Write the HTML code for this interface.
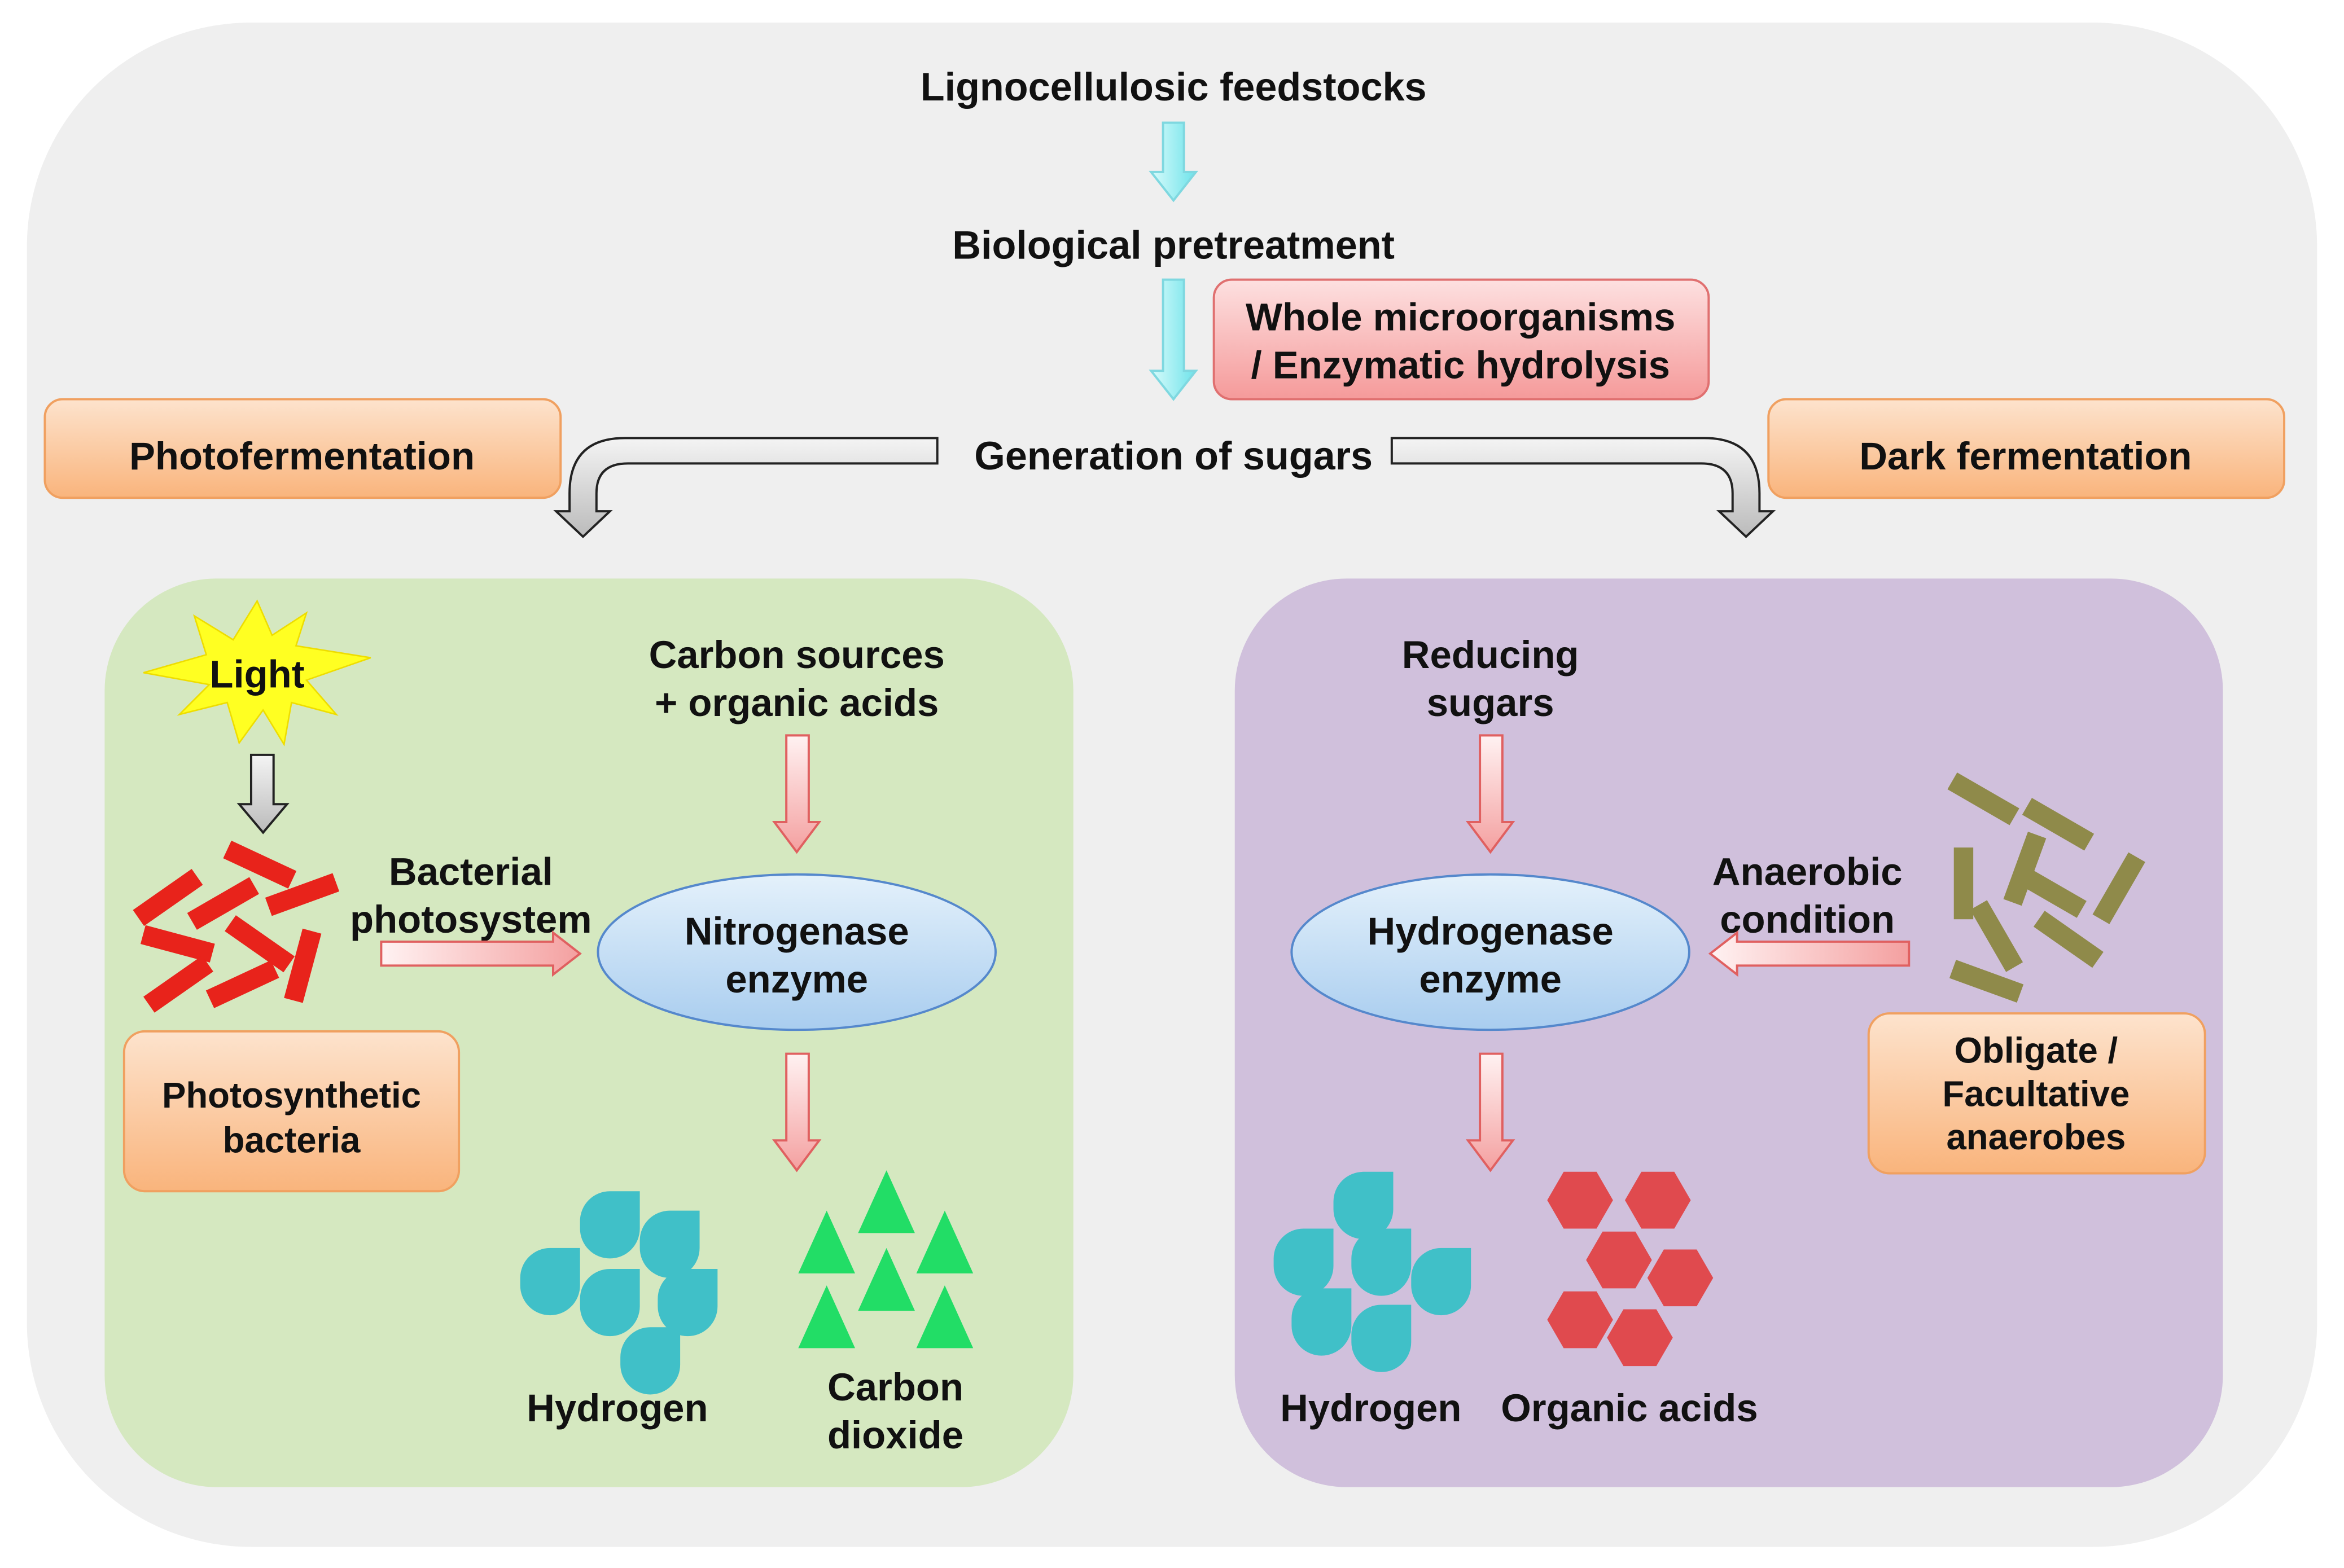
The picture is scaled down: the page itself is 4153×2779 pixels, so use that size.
<!DOCTYPE html>
<html><head><meta charset="utf-8"><style>
html,body{margin:0;padding:0;background:#fff;}
svg{display:block;}
text{font-family:"Liberation Sans",Arial,sans-serif;font-weight:bold;fill:#111;}
</style></head><body>
<svg width="4153" height="2779" viewBox="0 0 1568 1049" xmlns="http://www.w3.org/2000/svg">
<defs>
<linearGradient id="org" x1="0" y1="0" x2="0" y2="1"><stop offset="0" stop-color="#fde3cd"/><stop offset="1" stop-color="#f9b47c"/></linearGradient>
<linearGradient id="pnk" x1="0" y1="0" x2="0" y2="1"><stop offset="0" stop-color="#fde0e0"/><stop offset="1" stop-color="#f59a9a"/></linearGradient>
<linearGradient id="ell" x1="0" y1="0" x2="0" y2="1"><stop offset="0" stop-color="#e4f1fb"/><stop offset="1" stop-color="#a9cdef"/></linearGradient>
<linearGradient id="pa" x1="0" y1="0" x2="1" y2="0"><stop offset="0" stop-color="#fff2f2"/><stop offset="1" stop-color="#f4a0a0"/></linearGradient>
<linearGradient id="pav" x1="0" y1="0" x2="0" y2="1"><stop offset="0" stop-color="#fff2f2"/><stop offset="1" stop-color="#f4a0a0"/></linearGradient>
<linearGradient id="gr" x1="0" y1="0" x2="0" y2="1"><stop offset="0" stop-color="#f4f4f4"/><stop offset="1" stop-color="#bbb"/></linearGradient>
<linearGradient id="cy" x1="0" y1="0" x2="1" y2="0"><stop offset="0" stop-color="#d8fbfb"/><stop offset="1" stop-color="#6ee3ea"/></linearGradient>
<g id="drop"><path d="M20 0 H40 V25 A20 20 0 1 1 0 25 V20 A20 20 0 0 1 20 0 Z" fill="#40c0c8"/></g>
<polygon id="hex" points="22,0 11,19 -11,19 -22,0 -11,-19 11,-19" fill="#e04a4e"/>
<polygon id="tri" points="0,-22 19,20 -19,20" fill="#22dd66"/>
</defs>
<rect x="18" y="15" width="1532" height="1020" rx="150" fill="#efefef"/>

<text x="785" y="67" font-size="26.5" text-anchor="middle">Lignocellulosic feedstocks</text>
<path d="M778 82 H792 V115 H800 L785 134 L770 115 H778 Z" fill="url(#cy)" stroke="#7fd8e0" stroke-width="1.5"/>
<text x="785" y="173" font-size="26.5" text-anchor="middle">Biological pretreatment</text>
<path d="M778 187 H792 V248 H800 L785 267 L770 248 H778 Z" fill="url(#cy)" stroke="#7fd8e0" stroke-width="1.5"/>
<rect x="812" y="187" width="331" height="80" rx="12" fill="url(#pnk)" stroke="#e07070" stroke-width="1.5"/>
<text x="977" y="221" font-size="26" text-anchor="middle">Whole microorganisms</text>
<text x="977" y="253" font-size="26" text-anchor="middle">/ Enzymatic hydrolysis</text>
<text x="785" y="314" font-size="26.5" text-anchor="middle">Generation of sugars</text>

<rect x="30" y="267" width="345" height="66" rx="12" fill="url(#org)" stroke="#f0a060" stroke-width="1.5"/>
<text x="202" y="314" font-size="26" text-anchor="middle">Photofermentation</text>
<rect x="1183" y="267" width="345" height="66" rx="12" fill="url(#org)" stroke="#f0a060" stroke-width="1.5"/>
<text x="1355" y="314" font-size="26" text-anchor="middle">Dark fermentation</text>

<path d="M627 293 V310 H420 Q399 310 399 330 V342 H408 L390 359 L372 342 H381 V330 Q381 293 418 293 Z" fill="url(#gr)" stroke="#222" stroke-width="1.5"/>
<path d="M931 293 V310 H1138 Q1159 310 1159 330 V342 H1150 L1168 359 L1186 342 H1177 V330 Q1177 293 1140 293 Z" fill="url(#gr)" stroke="#222" stroke-width="1.5"/>

<rect x="70" y="387" width="648" height="608" rx="75" fill="#d5e8c0"/>
<rect x="826" y="387" width="661" height="608" rx="75" fill="#d0c0dc"/>

<polygon points="172,402 182,425 205,410 198,432 248,440 205,455 225,478 195,470 190,498 176,475 160,497 152,470 120,478 140,458 96,450 138,438 130,412 156,428" fill="#ffff22" stroke="#eedd00" stroke-width="1"/>
<text x="172" y="460" font-size="26" text-anchor="middle">Light</text>
<path d="M168 505 H183 V538 H192 L176 557 L160 538 H168 Z" fill="url(#gr)" stroke="#222" stroke-width="1.5"/>

<g fill="#e8231b">
<rect x="88" y="594" width="48" height="13" transform="rotate(-35 112 600)"/>
<rect x="125" y="598" width="48" height="13" transform="rotate(-30 149 604)"/>
<rect x="150" y="572" width="48" height="13" transform="rotate(25 174 578)"/>
<rect x="178" y="592" width="48" height="13" transform="rotate(-20 202 598)"/>
<rect x="95" y="625" width="48" height="13" transform="rotate(15 119 631)"/>
<rect x="150" y="625" width="48" height="13" transform="rotate(35 174 631)"/>
<rect x="95" y="652" width="48" height="13" transform="rotate(-35 119 658)"/>
<rect x="138" y="652" width="48" height="13" transform="rotate(-25 162 658)"/>
<rect x="178" y="640" width="48" height="13" transform="rotate(-75 202 646)"/>
</g>

<rect x="83" y="690" width="224" height="107" rx="14" fill="url(#org)" stroke="#f0a060" stroke-width="1.5"/>
<text x="195" y="741" font-size="24" text-anchor="middle">Photosynthetic</text>
<text x="195" y="771" font-size="24" text-anchor="middle">bacteria</text>

<text x="315" y="592" font-size="26" text-anchor="middle">Bacterial</text>
<text x="315" y="624" font-size="26" text-anchor="middle">photosystem</text>
<path d="M255 630 H370 V624 L388 638 L370 652 V646 H255 Z" fill="url(#pa)" stroke="#e06060" stroke-width="1.5"/>

<ellipse cx="533" cy="637" rx="133" ry="52" fill="url(#ell)" stroke="#5588cc" stroke-width="1.5"/>
<text x="533" y="632" font-size="26" text-anchor="middle">Nitrogenase</text>
<text x="533" y="664" font-size="26" text-anchor="middle">enzyme</text>
<text x="533" y="447" font-size="26" text-anchor="middle">Carbon sources</text>
<text x="533" y="479" font-size="26" text-anchor="middle">+ organic acids</text>
<path d="M526 492 H541 V550 H548 L533 570 L518 550 H526 Z" fill="url(#pav)" stroke="#e06060" stroke-width="1.5"/>
<path d="M526 705 H541 V763 H548 L533 783 L518 763 H526 Z" fill="url(#pav)" stroke="#e06060" stroke-width="1.5"/>

<use href="#drop" x="388" y="797"/>
<use href="#drop" x="428" y="810"/>
<use href="#drop" x="348" y="835"/>
<use href="#drop" x="388" y="849"/>
<use href="#drop" x="440" y="849"/>
<use href="#drop" x="415" y="888"/>
<text x="413" y="951" font-size="26" text-anchor="middle">Hydrogen</text>

<use href="#tri" x="593" y="805"/>
<use href="#tri" x="553" y="832"/>
<use href="#tri" x="632" y="832"/>
<use href="#tri" x="593" y="857"/>
<use href="#tri" x="553" y="882"/>
<use href="#tri" x="632" y="882"/>
<text x="599" y="937" font-size="26" text-anchor="middle">Carbon</text>
<text x="599" y="969" font-size="26" text-anchor="middle">dioxide</text>

<text x="997" y="447" font-size="26" text-anchor="middle">Reducing</text>
<text x="997" y="479" font-size="26" text-anchor="middle">sugars</text>
<path d="M990 492 H1005 V550 H1012 L997 570 L982 550 H990 Z" fill="url(#pav)" stroke="#e06060" stroke-width="1.5"/>
<ellipse cx="997" cy="637" rx="133" ry="52" fill="url(#ell)" stroke="#5588cc" stroke-width="1.5"/>
<text x="997" y="632" font-size="26" text-anchor="middle">Hydrogenase</text>
<text x="997" y="664" font-size="26" text-anchor="middle">enzyme</text>
<path d="M990 705 H1005 V763 H1012 L997 783 L982 763 H990 Z" fill="url(#pav)" stroke="#e06060" stroke-width="1.5"/>
<text x="1209" y="592" font-size="26" text-anchor="middle">Anaerobic</text>
<text x="1209" y="624" font-size="26" text-anchor="middle">condition</text>
<path d="M1277 630 H1162 V624 L1144 638 L1162 652 V646 H1277 Z" fill="url(#pa)" stroke="#e06060" stroke-width="1.5"/>

<g fill="#8f8a4a">
<rect x="1303" y="528" width="48" height="13" transform="rotate(30 1327 534)"/>
<rect x="1353" y="545" width="48" height="13" transform="rotate(30 1377 551)"/>
<rect x="1290" y="585" width="48" height="13" transform="rotate(90 1314 591)"/>
<rect x="1330" y="575" width="48" height="13" transform="rotate(-70 1354 581)"/>
<rect x="1348" y="590" width="48" height="13" transform="rotate(30 1372 596)"/>
<rect x="1393" y="588" width="48" height="13" transform="rotate(-60 1417 594)"/>
<rect x="1312" y="620" width="48" height="13" transform="rotate(60 1336 626)"/>
<rect x="1360" y="622" width="48" height="13" transform="rotate(35 1384 628)"/>
<rect x="1305" y="650" width="48" height="13" transform="rotate(20 1329 656)"/>
</g>
<rect x="1250" y="678" width="225" height="107" rx="14" fill="url(#org)" stroke="#f0a060" stroke-width="1.5"/>
<text x="1362" y="711" font-size="24" text-anchor="middle">Obligate /</text>
<text x="1362" y="740" font-size="24" text-anchor="middle">Facultative</text>
<text x="1362" y="769" font-size="24" text-anchor="middle">anaerobes</text>

<use href="#drop" x="892" y="784"/>
<use href="#drop" x="852" y="822"/>
<use href="#drop" x="904" y="822"/>
<use href="#drop" x="944" y="835"/>
<use href="#drop" x="864" y="862"/>
<use href="#drop" x="904" y="873"/>
<text x="917" y="951" font-size="26" text-anchor="middle">Hydrogen</text>

<use href="#hex" x="1057" y="803"/>
<use href="#hex" x="1109" y="803"/>
<use href="#hex" x="1083" y="843"/>
<use href="#hex" x="1124" y="855"/>
<use href="#hex" x="1057" y="883"/>
<use href="#hex" x="1097" y="895"/>
<text x="1090" y="951" font-size="26" text-anchor="middle">Organic acids</text>
</svg>
</body></html>
